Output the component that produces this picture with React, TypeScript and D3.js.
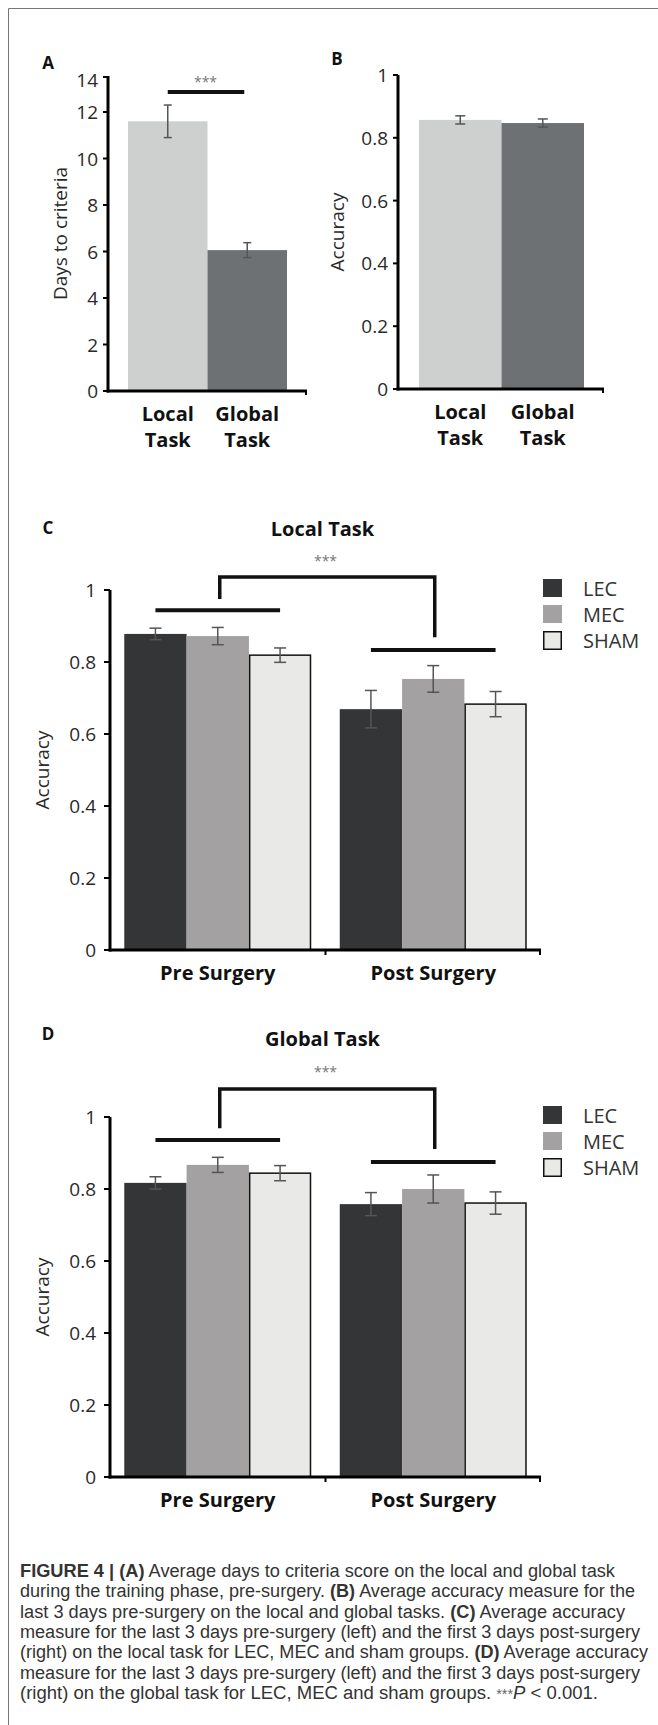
import React from 'react';
import * as d3 from 'd3';

// ---------- DATA ----------
const taskNames = ['Local', 'Global'];
const taskLabelLines = [['Local', 'Task'], ['Global', 'Task']];
const taskColors = ['#cdd0cf', '#6e7173'];

// Panel A: days to criteria
const daysMean = [11.6, 6.06];
const daysErr = [0.7, 0.32];
const daysTicks = [0, 2, 4, 6, 8, 10, 12];
const daysAxisTop = 13.55; // top end of the axis, labelled "14"
const daysTopLabel = '14';
const daysSigLevel = 12.86;

// Panel B: accuracy pre-surgery
const accMean = [0.857, 0.847];
const accErr = [0.013, 0.013];
const accTicks = [0, 0.2, 0.4, 0.6, 0.8, 1];

// Panels C & D
const phases = ['Pre Surgery', 'Post Surgery'];
const groups = ['LEC', 'MEC', 'SHAM'];
const groupColors = ['#333537', '#a3a1a2', '#e9e9e7'];
const groupStroke = ['none', 'none', '#111'];

const localMean = [
  [0.878, 0.872, 0.819],
  [0.669, 0.753, 0.683],
];
const localErr = [
  [0.016, 0.024, 0.02],
  [0.052, 0.037, 0.035],
];
const globalMean = [
  [0.817, 0.867, 0.844],
  [0.758, 0.8, 0.761],
];
const globalErr = [
  [0.017, 0.021, 0.021],
  [0.032, 0.039, 0.031],
];
// significance annotation levels (data units): phase lines, bracket top, bracket leg ends
const localSig = { phaseLines: [0.944, 0.833], bracketTop: 1.036, legEnds: [0.975, 0.869] };
const globalSig = { phaseLines: [0.936, 0.875], bracketTop: 1.078, legEnds: [0.969, 0.911] };

const captionLines: [string, string][][] = [
  [['FIGURE 4 | (A)', 'b'], [' Average days to criteria score on the local and global task', 'n']],
  [['during the training phase, pre-surgery. ', 'n'], ['(B)', 'b'], [' Average accuracy measure for the', 'n']],
  [['last 3 days pre-surgery on the local and global tasks. ', 'n'], ['(C)', 'b'], [' Average accuracy', 'n']],
  [['measure for the last 3 days pre-surgery (left) and the first 3 days post-surgery', 'n']],
  [['(right) on the local task for LEC, MEC and sham groups. ', 'n'], ['(D)', 'b'], [' Average accuracy', 'n']],
  [['measure for the last 3 days pre-surgery (left) and the first 3 days post-surgery', 'n']],
  [['(right) on the global task for LEC, MEC and sham groups. ', 'n'], ['***', 's'], ['P', 'i'], [' < 0.001.', 'n']],
];
const captionRight = [615, 635, 625, 640, 648, 640, 598];

// ---------- STYLE ----------
const FONT = "'Open Sans', 'Noto Sans', sans-serif";
const TEXT = '#2a2a2a';
const ERR = '#555';

function ErrorBar({ x, y1, y2, cap }: { x: number; y1: number; y2: number; cap: number }) {
  return (
    <g stroke={ERR} strokeWidth={1.5} fill="none">
      <line x1={x} x2={x} y1={y1} y2={y2} />
      <line x1={x - cap / 2} x2={x + cap / 2} y1={y1} y2={y1} />
      <line x1={x - cap / 2} x2={x + cap / 2} y1={y2} y2={y2} />
    </g>
  );
}

function SimplePanel(props: {
  letter: string; letterX: number; letterY: number;
  axisX: number; y: d3.ScaleLinear<number, number>; axisTopY: number; xEnd: number;
  x: d3.ScaleBand<string>; mean: number[]; err: number[]; ticks: number[];
  tickFmt: (v: number) => string; extraTop?: string; ylabel: string; ylabelX: number; cap: number;
}) {
  const { y, x } = props;
  const y0 = y(0);
  return (
    <g fontFamily={FONT}>
      <text x={props.letterX} y={props.letterY} fontSize={17} fontWeight={700} fill="#111" textAnchor="middle" dominantBaseline="central">{props.letter}</text>
      {taskNames.map((t, i) => (
        <rect key={t} x={x(t)} y={y(props.mean[i])} width={x.bandwidth()} height={y0 - y(props.mean[i])} fill={taskColors[i]} />
      ))}
      {taskNames.map((t, i) => (
        <ErrorBar key={t} x={(x(t) as number) + x.bandwidth() / 2} y1={y(props.mean[i] + props.err[i])} y2={y(props.mean[i] - props.err[i])} cap={props.cap} />
      ))}
      <line x1={props.axisX} x2={props.axisX} y1={props.axisTopY} y2={y0 + 1.5} stroke="#000" strokeWidth={3} />
      <line x1={props.axisX - 1.5} x2={props.xEnd} y1={y0} y2={y0} stroke="#000" strokeWidth={3} />
      <line x1={props.xEnd - 1} x2={props.xEnd - 1} y1={y0} y2={y0 + 4} stroke="#000" strokeWidth={2} />
      {props.ticks.map((v) => (
        <g key={v}>
          <line x1={props.axisX - 5} x2={props.axisX} y1={y(v)} y2={y(v)} stroke="#000" strokeWidth={2} />
          <text x={props.axisX - 10} y={y(v)} fontSize={19} fill={TEXT} textAnchor="end" dominantBaseline="central">{props.tickFmt(v)}</text>
        </g>
      ))}
      {props.extraTop && (
        <g>
          <line x1={props.axisX - 5} x2={props.axisX} y1={props.axisTopY + 1} y2={props.axisTopY + 1} stroke="#000" strokeWidth={2} />
          <text x={props.axisX - 10} y={props.axisTopY + 4} fontSize={19} fill={TEXT} textAnchor="end" dominantBaseline="central">{props.extraTop}</text>
        </g>
      )}
      <text transform={`translate(${props.ylabelX},${(props.axisTopY + y0) / 2}) rotate(-90)`} fontSize={19} fill={TEXT} textAnchor="middle" dominantBaseline="central">{props.ylabel}</text>
      {taskNames.map((t, i) => (
        <text key={t} x={(x(t) as number) + x.bandwidth() / 2} fontSize={20} fontWeight={700} fill="#111" textAnchor="middle">
          <tspan x={(x(t) as number) + x.bandwidth() / 2} y={y0 + 30}>{taskLabelLines[i][0]}</tspan>
          <tspan x={(x(t) as number) + x.bandwidth() / 2} y={y0 + 56}>{taskLabelLines[i][1]}</tspan>
        </text>
      ))}
    </g>
  );
}

function GroupPanel(props: {
  letter: string; letterY: number; title: string; titleY: number;
  yTop: number; yBottom: number; mean: number[][]; err: number[][];
  sig: { phaseLines: number[]; bracketTop: number; legEnds: number[] };
}) {
  const axisX = 110;
  const xEnd = 541;
  const y = d3.scaleLinear().domain([0, 1]).range([props.yBottom, props.yTop]);
  const x0 = d3.scaleBand<string>().domain(phases).range([axisX, xEnd]).paddingInner(0.1323).paddingOuter(0.0662);
  const x1 = d3.scaleBand<string>().domain(groups).range([0, x0.bandwidth()]);
  const y0 = y(0);
  const cx = (p: string, g: string) => (x0(p) as number) + (x1(g) as number) + x1.bandwidth() / 2;
  const centers = phases.map((p) => (x0(p) as number) + x0.bandwidth() / 2);
  const mid = (centers[0] + centers[1]) / 2;
  const bt = y(props.sig.bracketTop);
  return (
    <g fontFamily={FONT}>
      <text x={48} y={props.letterY} fontSize={17} fontWeight={700} fill="#111" textAnchor="middle" dominantBaseline="central">{props.letter}</text>
      <text x={mid - 3} y={props.titleY} fontSize={20} fontWeight={700} fill="#111" textAnchor="middle" dominantBaseline="central">{props.title}</text>
      <text x={mid} y={bt - 17} fontSize={14} fill="#777" textAnchor="middle" dominantBaseline="central">***</text>
      <path
        d={`M${centers[0] + 2},${y(props.sig.legEnds[0])} V${bt} H${centers[1] + 1.5} V${y(props.sig.legEnds[1])}`}
        fill="none" stroke="#111" strokeWidth={3.5}
      />
      {phases.map((p, pi) => (
        <line key={p} x1={cx(p, groups[0])} x2={cx(p, groups[2])} y1={y(props.sig.phaseLines[pi])} y2={y(props.sig.phaseLines[pi])} stroke="#111" strokeWidth={4} />
      ))}
      {phases.map((p, pi) => groups.map((g, gi) => (
        <rect key={p + g}
          x={(x0(p) as number) + (x1(g) as number) + (groupStroke[gi] !== 'none' ? 0.75 : 0)}
          y={y(props.mean[pi][gi])}
          width={x1.bandwidth() - (groupStroke[gi] !== 'none' ? 1.5 : 0)}
          height={y0 - y(props.mean[pi][gi])}
          fill={groupColors[gi]} stroke={groupStroke[gi]} strokeWidth={1.5} />
      )))}
      {phases.map((p, pi) => groups.map((g, gi) => (
        <ErrorBar key={p + g} x={cx(p, g)} y1={y(props.mean[pi][gi] + props.err[pi][gi])} y2={y(props.mean[pi][gi] - props.err[pi][gi])} cap={12} />
      )))}
      <line x1={axisX} x2={axisX} y1={y(1)} y2={y0 + 1.5} stroke="#000" strokeWidth={3} />
      <line x1={axisX - 1.5} x2={xEnd} y1={y0} y2={y0} stroke="#000" strokeWidth={3} />
      <line x1={xEnd - 1} x2={xEnd - 1} y1={y0} y2={y0 + 5} stroke="#000" strokeWidth={2} />
      <line x1={mid} x2={mid} y1={y0} y2={y0 + 5} stroke="#000" strokeWidth={2} />
      {accTicks.map((v) => (
        <g key={v}>
          <line x1={axisX - 6} x2={axisX} y1={y(v)} y2={y(v)} stroke="#000" strokeWidth={2} />
          <text x={axisX - 14} y={y(v)} fontSize={19} fill={TEXT} textAnchor="end" dominantBaseline="central">{v === 0 || v === 1 ? String(v) : v.toFixed(1)}</text>
        </g>
      ))}
      <text transform={`translate(42,${(y(1) + y0) / 2}) rotate(-90)`} fontSize={19} fill={TEXT} textAnchor="middle" dominantBaseline="central">Accuracy</text>
      {phases.map((p, pi) => (
        <text key={p} x={centers[pi]} y={y0 + 30} fontSize={20} fontWeight={700} fill="#111" textAnchor="middle">{p}</text>
      ))}
      {groups.map((g, gi) => (
        <g key={g} transform={`translate(543,${y(1) - 11 + gi * 26})`}>
          <rect x={groupStroke[gi] !== 'none' ? 0.75 : 0} y={groupStroke[gi] !== 'none' ? 0.75 : 0}
            width={groupStroke[gi] !== 'none' ? 17.5 : 19} height={groupStroke[gi] !== 'none' ? 17.5 : 18}
            fill={groupColors[gi]} stroke={groupStroke[gi]} strokeWidth={1.5} />
          <text x={40} y={9.5} fontSize={20} fill="#333" dominantBaseline="central">{g}</text>
        </g>
      ))}
    </g>
  );
}

export default function App() {
  const aY = d3.scaleLinear().domain([0, 12]).range([391, 112]);
  const aX = d3.scaleBand<string>().domain(taskNames).range([128, 287]);
  const bY = d3.scaleLinear().domain([0, 1]).range([389, 75]);
  const bX = d3.scaleBand<string>().domain(taskNames).range([419, 584]);
  const aXc = taskNames.map((t) => (aX(t) as number) + aX.bandwidth() / 2);

  return (
    <svg width={658} height={1725} style={{ position: 'absolute', left: 0, top: 0, background: '#fff' }}>
      <rect x={0} y={0} width={658} height={1725} fill="#fff" />
      <path d="M8.5,1725 V8.5 H658" fill="none" stroke="#777" strokeWidth={1} />

      <SimplePanel letter="A" letterX={48} letterY={62} axisX={108} y={aY} axisTopY={aY(daysAxisTop)} xEnd={307}
        x={aX} mean={daysMean} err={daysErr} ticks={daysTicks} tickFmt={(v) => String(v)} extraTop={daysTopLabel}
        ylabel="Days to criteria" ylabelX={60} cap={8} />
      <line x1={aXc[0]} x2={aXc[1] - 3} y1={aY(daysSigLevel)} y2={aY(daysSigLevel)} stroke="#111" strokeWidth={4} />
      <text x={(aXc[0] + aXc[1]) / 2 - 2} y={aY(daysSigLevel) - 11} fontSize={14} fill="#777" textAnchor="middle" dominantBaseline="central" fontFamily={FONT}>***</text>

      <SimplePanel letter="B" letterX={337} letterY={58} axisX={398} y={bY} axisTopY={bY(1)} xEnd={604}
        x={bX} mean={accMean} err={accErr} ticks={accTicks} tickFmt={(v) => (v === 0 || v === 1 ? String(v) : v.toFixed(1))}
        ylabel="Accuracy" ylabelX={337} cap={10} />

      <GroupPanel letter="C" letterY={527} title="Local Task" titleY={528} yTop={590} yBottom={950}
        mean={localMean} err={localErr} sig={localSig} />
      <GroupPanel letter="D" letterY={1033} title="Global Task" titleY={1038} yTop={1117} yBottom={1477}
        mean={globalMean} err={globalErr} sig={globalSig} />

      <g fontFamily="'Liberation Sans', Arial, sans-serif" fontSize={18} fill="#333">
        {captionLines.map((line, li) => (
          <text key={li} x={20} y={1577 + li * 20.3} textLength={captionRight[li] - 20} lengthAdjust="spacingAndGlyphs">
            {line.map(([s, st], si) => (
              <tspan key={si} fontWeight={st === 'b' ? 700 : 400} fontStyle={st === 'i' ? 'italic' : 'normal'}
                fill={st === 's' ? '#666' : '#333'} fontSize={st === 's' ? 14 : 18}>{s}</tspan>
            ))}
          </text>
        ))}
      </g>
    </svg>
  );
}
